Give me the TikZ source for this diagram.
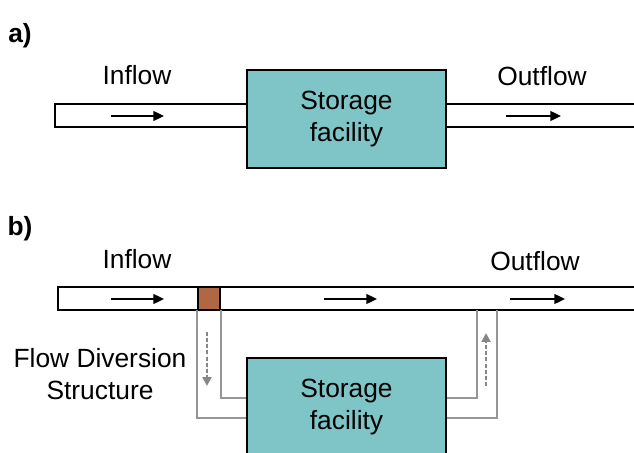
\documentclass[tikz,border=0pt]{standalone}
\usepackage{fontspec}
\setmainfont{Liberation Sans}
\usetikzlibrary{arrows.meta}
\definecolor{tankteal}{RGB}{127,196,198}
\definecolor{gatebrown}{RGB}{176,104,68}
\definecolor{linegray}{RGB}{150,150,150}
\definecolor{dashgray}{RGB}{135,135,135}
\tikzstyle{tank}=[fill=tankteal, draw=black, line width=0.9pt, shape=rectangle, minimum width=3.98cm, minimum height=1.96cm, align=center, font=\fontsize{15}{18}\selectfont]
\tikzstyle{pipe}=[fill=white, draw=black, line width=0.8pt, shape=rectangle, inner sep=0pt]
\tikzstyle{gate}=[fill=gatebrown, draw=black, line width=0.8pt, shape=rectangle, inner sep=0pt, minimum size=0.44cm]
\tikzstyle{label}=[font=\fontsize{15}{18}\selectfont, align=center, inner sep=0pt]
\tikzstyle{tag}=[font=\fontsize{15}{18}\selectfont\bfseries, inner sep=0pt]
\tikzstyle{flow edge}=[-{Triangle[length=6pt, width=5.5pt]}, draw=black, line width=1.1pt]
\tikzstyle{gray edge}=[-, draw=linegray, line width=1.1pt]
\tikzstyle{dashed edge}=[-{Triangle[length=5pt, width=5pt]}, draw=dashgray, fill=dashgray, line width=1.4pt, dash pattern=on 2.3pt off 1.2pt]
\pgfdeclarelayer{nodelayer}
\pgfdeclarelayer{edgelayer}
\pgfsetlayers{nodelayer,edgelayer,main}

\begin{document}
\begin{tikzpicture}[x=0.02cm, y=-0.02cm]
	\useasboundingbox (0,0) rectangle (634,452);
	\begin{pgfonlayer}{nodelayer}
		% a)
		\node [style=tag] (tagA) at (20, 36) {a)};
		\node [style=pipe, minimum width=12.1cm, minimum height=0.46cm] (pipeA) at (357.5, 115.5) {};
		\node [style=tank] (tankA) at (346.5, 119) {Storage\\facility};
		\node [style=label] (inA) at (137, 75) {Inflow};
		\node [style=label] (outA) at (542, 76) {Outflow};
		% b)
		\node [style=tag] (tagB) at (20, 229) {b)};
		\node [style=pipe, minimum width=12.04cm, minimum height=0.46cm] (pipeB) at (359, 298.5) {};
		\node [style=gate] (gate) at (209, 298.5) {};
		\node [style=tank] (tankB) at (346.5, 407) {Storage\\facility};
		\node [style=label] (inB) at (137, 259) {Inflow};
		\node [style=label] (outB) at (535, 261) {Outflow};
		\node [style=label] (divert) at (100, 374) {Flow Diversion\\Structure};
	\end{pgfonlayer}
	\begin{pgfonlayer}{edgelayer}
		\coordinate (a1) at (111, 116);
		\coordinate (a2) at (164, 116);
		\coordinate (a3) at (506, 116);
		\coordinate (a4) at (561, 116);
		\coordinate (b1) at (111, 299);
		\coordinate (b2) at (164, 299);
		\coordinate (b3) at (324, 299);
		\coordinate (b4) at (377, 299);
		\coordinate (b5) at (510, 299);
		\coordinate (b6) at (565, 299);
		\coordinate (retIn) at (477, 310);
		\coordinate (retOut) at (497, 310);
		\coordinate (down1) at (207, 332);
		\coordinate (down2) at (207, 386);
		\coordinate (up1) at (486, 386);
		\coordinate (up2) at (486, 333);
		\draw [style=flow edge] (a1) to (a2);
		\draw [style=flow edge] (a3) to (a4);
		\draw [style=flow edge] (b1) to (b2);
		\draw [style=flow edge] (b3) to (b4);
		\draw [style=flow edge] (b5) to (b6);
		\draw [style=gray edge] (gate.south west) |- ([yshift=-0.22cm]tankB.west);
		\draw [style=gray edge] (gate.south east) |- ([yshift=0.18cm]tankB.west);
		\draw [style=gray edge] ([yshift=0.18cm]tankB.east) -| (retIn);
		\draw [style=gray edge] ([yshift=-0.22cm]tankB.east) -| (retOut);
		\draw [style=dashed edge] (down1) to (down2);
		\draw [style=dashed edge] (up1) to (up2);
	\end{pgfonlayer}
\end{tikzpicture}
\end{document}
